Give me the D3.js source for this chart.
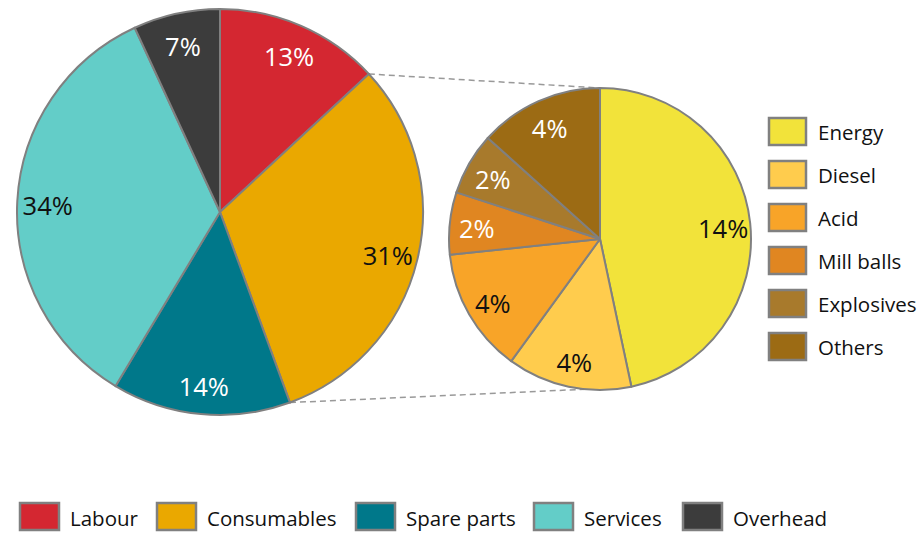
<!DOCTYPE html>
<html><head><meta charset="utf-8">
<script src="https://cdn.jsdelivr.net/npm/d3@7"></script>
<style>body{margin:0;background:#fff}svg{display:block}</style>
</head><body><svg id="c" width="919" height="533"></svg>
<script>
const mainCats = ["Labour","Consumables","Spare parts","Services","Overhead"];
const mainVals = [13.1, 31.3, 14.2, 34.5, 6.9];
const mainLabels = ["13%","31%","14%","34%","7%"];
const mainColors = ["#D42731","#EAA800","#00788A","#63CDC8","#3C3C3C"];
const mainText = ["#fff","#111","#fff","#111","#fff"];

const subCats = ["Energy","Diesel","Acid","Mill balls","Explosives","Others"];
const subVals = [14, 4, 4, 2, 2, 4];
const subLabels = ["14%","4%","4%","2%","2%","4%"];
const subColors = ["#F2E33A","#FFCC4D","#F8A428","#E08621","#A87A2C","#9C6B14"];
const subText = ["#111","#111","#111","#fff","#fff","#fff"];

const svg = d3.select("#c");
const font = "'Open Sans', sans-serif";
const stroke = "#808080";

const c1 = {x:220, y:212, r:203};
const c2 = {x:600, y:239, r:151};

const pie = d3.pie().sort(null).value(d => d.v);
const mainArcs = pie(mainCats.map((c,i)=>({c, v:mainVals[i], i})));
const subArcs = pie(subCats.map((c,i)=>({c, v:subVals[i], i})));

// connector lines
const cons = mainArcs[1];
const pt = (cx,cy,r,a) => [cx + r*Math.sin(a), cy - r*Math.cos(a)];
const p1 = pt(c1.x,c1.y,c1.r,cons.startAngle), p2 = pt(c1.x,c1.y,c1.r,cons.endAngle);
const q1 = pt(c2.x,c2.y,c2.r,0), q2 = pt(c2.x,c2.y,c2.r,Math.PI+0.1);
svg.append("g").selectAll("line").data([[p1,q1],[p2,q2]]).join("line")
  .attr("x1",d=>d[0][0]).attr("y1",d=>d[0][1]).attr("x2",d=>d[1][0]).attr("y2",d=>d[1][1])
  .attr("stroke","#999").attr("stroke-width",1.5).attr("stroke-dasharray","6,4");

function drawPie(arcs, c, colors, labels, textCols, lr) {
  const arc = d3.arc().innerRadius(0).outerRadius(c.r);
  const g = svg.append("g").attr("transform",`translate(${c.x},${c.y})`);
  g.selectAll("path").data(arcs).join("path").attr("d",arc)
    .attr("fill",d=>colors[d.data.i]).attr("stroke",stroke).attr("stroke-width",2).attr("stroke-linejoin","round");
  const la = d3.arc().innerRadius(c.r*lr).outerRadius(c.r*lr);
  g.selectAll("text").data(arcs).join("text")
    .attr("transform",d=>`translate(${la.centroid(d)})`)
    .attr("text-anchor","middle").attr("dy","0.48em")
    .attr("font-family",font).attr("font-size",25.5)
    .attr("fill",d=>textCols[d.data.i]).text(d=>labels[d.data.i]);
}
drawPie(mainArcs, c1, mainColors, mainLabels, mainText, 0.85);
drawPie(subArcs, c2, subColors, subLabels, subText, 0.82);

// right legend
const rl = svg.append("g");
const ry = d3.scalePoint().domain(subCats).range([131, 346]);
subCats.forEach((c,i)=>{
  rl.append("rect").attr("x",769).attr("y",ry(c)-13).attr("width",37).attr("height",27)
    .attr("fill",subColors[i]).attr("stroke",stroke).attr("stroke-width",2.5);
  rl.append("text").attr("x",818).attr("y",ry(c)).attr("dy","0.45em")
    .attr("font-family",font).attr("font-size",20.5).attr("fill","#111").text(c);
});

// bottom legend
const bx = [20,157,356,534,683];
const bl = svg.append("g");
mainCats.forEach((c,i)=>{
  bl.append("rect").attr("x",bx[i]).attr("y",503).attr("width",39).attr("height",27)
    .attr("fill",mainColors[i]).attr("stroke",stroke).attr("stroke-width",2.5);
  bl.append("text").attr("x",bx[i]+50).attr("y",517).attr("dy","0.45em")
    .attr("font-family",font).attr("font-size",20.5).attr("fill","#111").text(c);
});
</script></body></html>
